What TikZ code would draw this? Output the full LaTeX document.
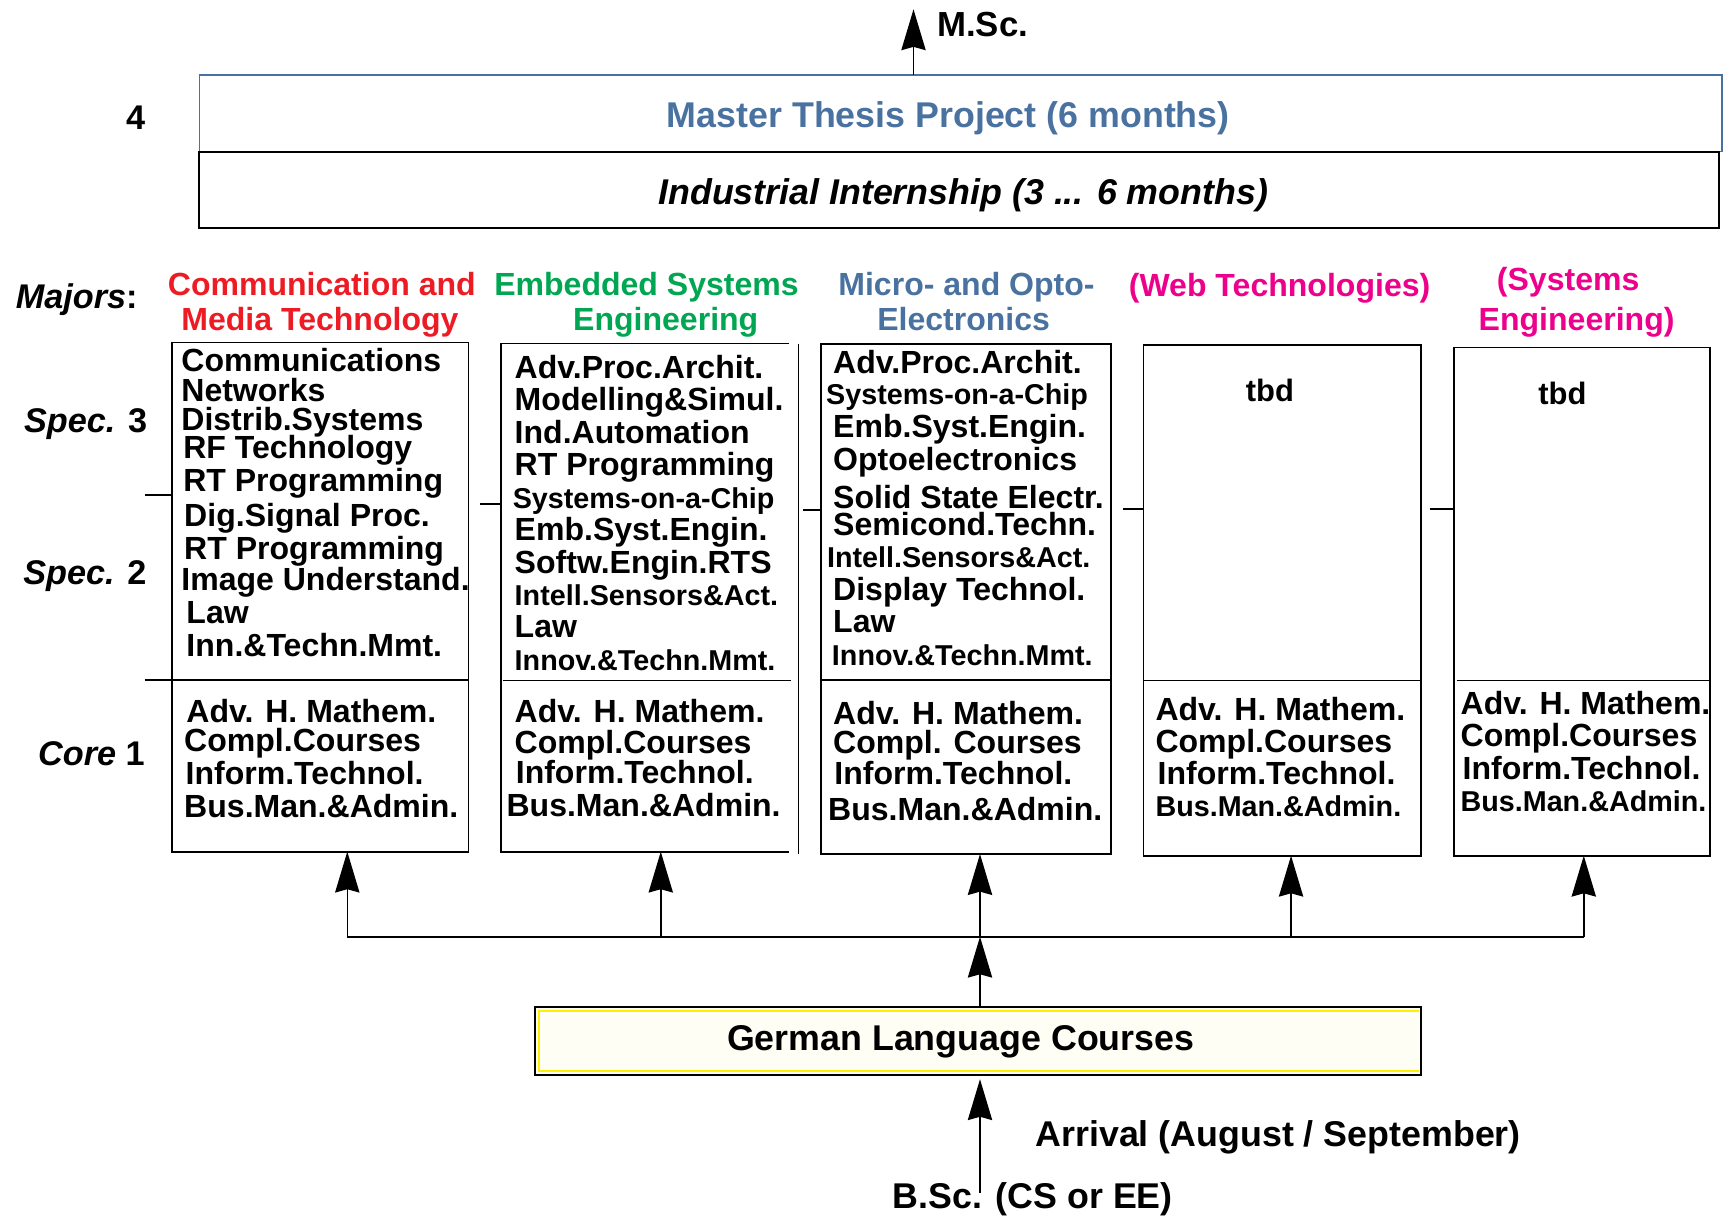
\documentclass[tikz,border=0pt]{standalone}
\usepackage{fontspec}
\setmainfont{Liberation Sans}
\usetikzlibrary{arrows.meta,calc}
\definecolor{mred}{RGB}{237,28,36}
\definecolor{mgreen}{RGB}{0,166,81}
\definecolor{mblue}{RGB}{74,114,160}
\definecolor{mmag}{RGB}{236,0,140}
\definecolor{gfill}{RGB}{255,254,245}
\definecolor{gyel}{RGB}{255,240,0}
\begin{document}
\begin{tikzpicture}[x=1pt,y=-1pt,
  every node/.style={inner sep=0pt,outer sep=0pt},
  ln/.style={line width=1.6pt},
  colbox/.style={draw,line width=1.6pt,anchor=north west},
  itm/.style={anchor=base west,font=\fontsize{#1}{#1}\selectfont\bfseries},
  itm/.default=29,
  rowlbl/.style={anchor=base east,font=\fontsize{31}{31}\selectfont\bfseries},
  bigtxt/.style={anchor=base west,font=\fontsize{32.4}{32.4}\selectfont\bfseries},
  arr/.style={line width=1.4pt,-{Stealth[length=37pt,width=22pt,inset=3pt]}}]
\useasboundingbox (0,0) rectangle (1568,1101);

% ---------- top boxes ----------
\node[draw=mblue,line width=1.3pt,anchor=north west,minimum width=1378.4pt,minimum height=69.4pt] (thesis) at (180.4,67.9) {};
\node[draw,line width=1.6pt,anchor=north west,minimum width=1375.6pt,minimum height=69.4pt] (intern) at (180.4,137.3) {};
\node[bigtxt,text=mblue,anchor=base] (thesistxt) at (858.5,115.2) {Master Thesis Project (6 months)};
\node[bigtxt,anchor=base] (interntxt) at (872,185) {\itshape Industrial Internship (3 ... 6 months)};
\coordinate (msctip) at (827,8.4);
\draw[arr] (thesis.north -| msctip) -- (msctip);
\node[bigtxt,font=\fontsize{31.5}{31.5}\selectfont\bfseries] (msc) at (848.4,33) {M.Sc.};

% ---------- row labels ----------
\node[rowlbl] (four) at (131.5,117) {4};
\node[rowlbl] (majors) at (124.5,279) {\textit{Majors}:};
\node[rowlbl] (spec3) at (133.2,391.5) {\textit{Spec.} 3};
\node[rowlbl] (spec2) at (132.6,529.5) {\textit{Spec.} 2};
\node[rowlbl] (core1) at (131,693) {\textit{Core} 1};

% ---------- major titles ----------
\node[itm,text=mred] (m1a) at (152,267.2) {Communication and};
\node[itm,text=mred] (m1b) at (164.2,299.5) {Media Technology};
\node[itm,text=mgreen] (m2a) at (447.5,267.2) {Embedded Systems};
\node[itm,text=mgreen] (m2b) at (518.9,299.5) {Engineering};
\node[itm,text=mblue] (m3a) at (759,267.2) {Micro- and Opto-};
\node[itm,text=mblue] (m3b) at (794.2,299.5) {Electronics};
\node[itm,text=mmag] (m4a) at (1022,268.6) {(Web Technologies)};
\node[itm,text=mmag] (m5a) at (1355.2,262.7) {(Systems};
\node[itm,text=mmag] (m5b) at (1338.7,299.5) {Engineering)};

% ---------- column boxes ----------
\node[colbox,minimum width=268.4pt,minimum height=460.9pt] (c1) at (155.8,310.1) {};
\node[anchor=north west,minimum width=261.2pt,minimum height=460pt] (c2) at (453.3,311) {};
\draw[ln] (c2.north east) -- (c2.north west) -- (c2.south west) -- (c2.south east);
\draw[ln] ([xshift=8.4pt]c2.north east) -- ++(0,462.2);
\node[colbox,minimum width=262.4pt,minimum height=462pt] (c3) at (743.2,311.2) {};
\node[colbox,minimum width=251.4pt,minimum height=462.5pt] (c4) at (1035.2,312.2) {};
\node[colbox,minimum width=231.7pt,minimum height=460.1pt] (c5) at (1316.1,314.6) {};

% dividers and ticks
\draw[ln] (131,615.4) -- (424.2,615.4);
\draw[ln] (455,616) -- (716,616);
\draw[ln] (743.2,615.4) -- (1005.6,615.4);
\draw[ln] (1035.2,616) -- (1286.6,616);
\draw[ln] (1318.7,616) -- (1547.8,616);
\draw[ln] (131,448) -- (155.8,448);
\draw[ln] (434.6,456) -- (453.3,456);
\draw[ln] (727,462) -- (743.2,462);
\draw[ln] (1017,461) -- (1035.2,461);
\draw[ln] (1294.2,461) -- (1316.1,461);

% ---------- column texts ----------
\foreach \px/\py/\fs/\tx [count=\i] in {
  164.2/336.5/29/Communications, 164.2/363.1/29/Networks, 164.2/389.8/29/Distrib.Systems,
  165.9/415.1/29/RF Technology, 165.9/445.2/29/RT Programming, 166.8/476.4/29/Dig.Signal Proc.,
  166.8/506.2/29/RT Programming, 164.2/534.6/29/Image Understand., 168.8/564/29/Law,
  168.8/594.2/29/Inn.\&Techn.Mmt.,
  168.8/654/29/Adv. H. Mathem., 166.8/680.7/29/Compl.Courses, 168.1/710.5/29/Inform.Technol.,
  166.8/740/29/Bus.Man.\&Admin.}
  \node[itm=\fs] (c1t\i) at (\px,\py) {\tx};

\foreach \px/\py/\fs/\tx [count=\i] in {
  466/342.3/29/Adv.Proc.Archit., 466/371.8/29/Modelling\&Simul., 466/401.2/29/Ind.Automation,
  466/430.7/29/RT Programming, 464.2/460.1/26/Systems-on-a-Chip, 466/489.6/29/Emb.Syst.Engin.,
  466/519/29/Softw.Engin.RTS, 466/548.4/26/Intell.Sensors\&Act., 466/576.8/29/Law,
  466/606.6/26/Innov.\&Techn.Mmt.,
  466/654/29/Adv. H. Mathem., 466/681.8/29/Compl.Courses, 467/709.5/29/Inform.Technol.,
  458.6/739/29/Bus.Man.\&Admin.}
  \node[itm=\fs] (c2t\i) at (\px,\py) {\tx};

\foreach \px/\py/\fs/\tx [count=\i] in {
  754.3/337.8/29/Adv.Proc.Archit., 748/366.6/26/Systems-on-a-Chip, 754.3/396/29/Emb.Syst.Engin.,
  754.3/425.5/29/Optoelectronics, 754.3/460.1/29/Solid State Electr., 754.3/484.4/29/Semicond.Techn.,
  748.7/513.8/26/Intell.Sensors\&Act., 754.3/543.2/29/Display Technol., 754.3/572.7/29/Law,
  753.2/602.1/26/Innov.\&Techn.Mmt.,
  754.3/655.8/29/Adv. H. Mathem., 754.3/681.8/29/Compl. Courses, 755.4/710.2/29/Inform.Technol.,
  749.8/742.4/29/Bus.Man.\&Admin.}
  \node[itm=\fs] (c3t\i) at (\px,\py) {\tx};

\foreach \px/\py/\fs/\tx [count=\i] in {
  1127.9/363.1/28/tbd,
  1046.1/652.4/29/Adv. H. Mathem., 1046.1/681.1/29/Compl.Courses, 1048/710.5/29/Inform.Technol.,
  1046.1/739/26/Bus.Man.\&Admin.}
  \node[itm=\fs] (c4t\i) at (\px,\py) {\tx};

\foreach \px/\py/\fs/\tx [count=\i] in {
  1392.7/366.6/28/tbd,
  1322.3/647.2/29/Adv. H. Mathem., 1322.3/675.9/29/Compl.Courses, 1324.1/706/29/Inform.Technol.,
  1322.3/734.8/26/Bus.Man.\&Admin.}
  \node[itm=\fs] (c5t\i) at (\px,\py) {\tx};

% ---------- distribution bus ----------
\coordinate (b1) at (314.4,848);
\coordinate (b2) at (598.2,848);
\coordinate (b3) at (887.2,848);
\coordinate (b4) at (1168.8,848);
\coordinate (b5) at (1433.8,848);
\draw[ln] (b1) -- (b5);
\draw[arr] (b1) -- (b1 |- c1.south);
\draw[arr] (b2) -- (b2 |- c2.south);
\draw[arr] (b3) -- (b3 |- c3.south);
\draw[arr] (b4) -- (b4 |- c4.south);
\draw[arr] (b5) -- (b5 |- c5.south);

% ---------- German courses ----------
\node[draw,line width=1.8pt,fill=gfill,anchor=north west,minimum width=802.6pt,minimum height=62.1pt] (german) at (484,911.4) {};
\draw[gyel,line width=1.5pt] ([shift={(-2pt,4pt)}]german.south east) -- ([shift={(4pt,4pt)}]german.south west)
  -- ([shift={(4pt,-4pt)}]german.north west) -- ([shift={(-2pt,-4pt)}]german.north east);
\node[bigtxt] (germantxt) at (658.2,951) {German Language Courses};
\draw[arr] (german.north -| b3) -- (b3);

% ---------- arrival ----------
\coordinate (bsc) at (887.2,1080);
\draw[arr,shorten >=3.5pt] (bsc) -- (bsc |- german.south);
\node[bigtxt] (arrival) at (937.5,1037.5) {Arrival (August / September)};
\node[bigtxt] (bsctxt) at (808.4,1094.5) {B.Sc. (CS or EE)};
\end{tikzpicture}
\end{document}
